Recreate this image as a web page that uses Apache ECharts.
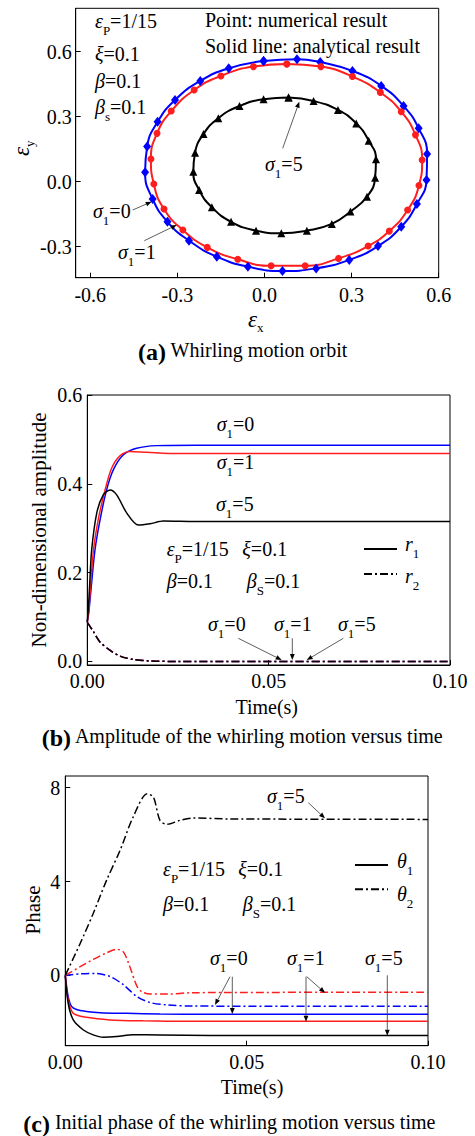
<!DOCTYPE html>
<html>
<head>
<meta charset="utf-8">
<script src="https://cdn.jsdelivr.net/npm/echarts@6/dist/echarts.min.js"></script>
<style>
  html, body { margin: 0; padding: 0; background: #fff; }
  #main { width: 475px; height: 1136px; }
</style>
</head>
<body>
<div id="main"></div>
<script>
// ---------- (a) whirling orbits, [εx, εy] ----------
const orbitSigma0 = [
  [-0.003, 0.557], [0.112, 0.565], [0.192, 0.552], [0.303, 0.511], [0.402, 0.442],
  [0.479, 0.349], [0.531, 0.246], [0.560, 0.128], [0.558, 0.008], [0.525, -0.103],
  [0.471, -0.208], [0.391, -0.297], [0.292, -0.361], [0.178, -0.400], [0.062, -0.412],
  [-0.057, -0.392], [-0.164, -0.346], [-0.260, -0.272], [-0.334, -0.185], [-0.385, -0.080],
  [-0.411, 0.043], [-0.404, 0.162], [-0.368, 0.276], [-0.308, 0.377], [-0.221, 0.465],
  [-0.123, 0.523]
];
const orbitSigma1 = [
  [0.077, 0.543], [0.194, 0.531], [0.303, 0.485], [0.399, 0.412], [0.471, 0.323],
  [0.520, 0.216], [0.543, 0.100], [0.532, -0.018], [0.493, -0.131], [0.430, -0.228],
  [0.357, -0.297], [0.255, -0.354], [0.140, -0.388], [0.023, -0.388], [-0.092, -0.358],
  [-0.197, -0.303], [-0.281, -0.223], [-0.346, -0.126], [-0.381, -0.011], [-0.391, 0.105],
  [-0.370, 0.223], [-0.321, 0.326], [-0.242, 0.423], [-0.150, 0.488], [-0.038, 0.531]
];
const orbitSigma5 = [
  [0.083, 0.388], [0.169, 0.372], [0.253, 0.331], [0.316, 0.269], [0.359, 0.189],
  [0.384, 0.103], [0.381, 0.018], [0.353, -0.069], [0.296, -0.138], [0.232, -0.195],
  [0.146, -0.226], [0.058, -0.238], [-0.029, -0.226], [-0.115, -0.185], [-0.181, -0.118],
  [-0.225, -0.038], [-0.245, 0.046], [-0.239, 0.134], [-0.210, 0.220], [-0.159, 0.293],
  [-0.086, 0.349], [-0.003, 0.380]
];
const orbitXTicks = [-0.6, -0.3, 0, 0.3, 0.6];
const orbitYTicks = [-0.3, 0, 0.3, 0.6];

// ---------- (b) amplitude versus time, [t, r] ----------
const r1Sigma0 = [[0, 0.089], [0.0004, 0.11], [0.001, 0.16], [0.0021, 0.25], [0.0035, 0.318],
  [0.0053, 0.386], [0.0072, 0.432], [0.0099, 0.465], [0.0136, 0.480], [0.0191, 0.486],
  [0.03, 0.487], [0.1, 0.487]];
const r1Sigma1 = [[0, 0.089], [0.0004, 0.115], [0.0009, 0.17], [0.0017, 0.251], [0.003, 0.319],
  [0.0049, 0.386], [0.0067, 0.435], [0.009, 0.463], [0.0118, 0.473], [0.0164, 0.471],
  [0.025, 0.468], [0.1, 0.468]];
const r1Sigma5 = [[0, 0.089], [0.0003, 0.12], [0.0007, 0.18], [0.0012, 0.251], [0.0026, 0.334],
  [0.0044, 0.375], [0.0063, 0.386], [0.0081, 0.375], [0.0109, 0.334], [0.0141, 0.307],
  [0.0173, 0.310], [0.021, 0.316], [0.03, 0.315], [0.1, 0.315]];
const r2Sigma0 = [[0, 0.088], [0.0017, 0.067], [0.0035, 0.044], [0.0063, 0.025], [0.009, 0.012],
  [0.0127, 0.0045], [0.0173, 0.001], [0.025, 0], [0.1, 0]];
const r2Sigma1 = [[0, 0.088], [0.0017, 0.067], [0.0035, 0.044], [0.0063, 0.025], [0.009, 0.012],
  [0.0127, 0.0045], [0.0173, 0.001], [0.025, 0], [0.1, 0]];
const r2Sigma5 = [[0, 0.088], [0.0017, 0.067], [0.0035, 0.044], [0.0063, 0.025], [0.009, 0.012],
  [0.0127, 0.0045], [0.0173, 0.001], [0.025, 0], [0.1, 0]];
const timeTicks = [0, 0.05, 0.1];
const ampTicks = [0, 0.2, 0.4, 0.6];

// ---------- (c) phase versus time, [t, θ] ----------
const th1Sigma0 = [[0, 0], [0.0008, -0.91], [0.0018, -1.34], [0.0041, -1.5], [0.0096, -1.59],
  [0.0169, -1.62], [0.0261, -1.65], [0.04, -1.66], [0.1, -1.66]];
const th1Sigma1 = [[0, 0], [0.0008, -1.05], [0.0022, -1.62], [0.0059, -1.79], [0.0123, -1.9],
  [0.0215, -1.94], [0.035, -1.96], [0.1, -1.96]];
const th1Sigma5 = [[0, 0], [0.0008, -1.19], [0.0022, -1.9], [0.005, -2.33], [0.0077, -2.54],
  [0.0105, -2.64], [0.0142, -2.61], [0.0187, -2.53], [0.0261, -2.54], [0.04, -2.56], [0.1, -2.56]];
const th2Sigma0 = [[0, 0], [0.004, 0.06], [0.0085, 0.08], [0.0123, -0.05], [0.016, -0.4],
  [0.0197, -0.9], [0.0234, -1.16], [0.028, -1.26], [0.035, -1.31], [0.1, -1.32]];
const th2Sigma1 = [[0, 0], [0.0041, 0.37], [0.0077, 0.68], [0.0114, 0.96], [0.0142, 1.11],
  [0.016, 1.0], [0.0178, 0.37], [0.0197, -0.45], [0.0211, -0.70], [0.0234, -0.80],
  [0.028, -0.80], [0.035, -0.74], [0.1, -0.72]];
const th2Sigma5 = [[0, 0], [0.0041, 1.36], [0.0077, 2.64], [0.0114, 4.06], [0.0151, 5.33],
  [0.0187, 6.75], [0.0226, 7.74], [0.0243, 7.6], [0.0261, 6.61], [0.028, 6.44],
  [0.0316, 6.61], [0.0353, 6.71], [0.045, 6.67], [0.1, 6.65]];
const phaseTicks = [0, 4, 8];

// ---------- styling ----------
const FF = "'Liberation Serif', 'Times New Roman', serif";
const BLUE = '#0000ff', RED = '#ff1e1e', BLACK = '#000000';
const DASHDOT = [8, 3, 2, 3];

const chart = echarts.init(document.getElementById('main'), null, { renderer: 'svg' });

function closed(pts) { return pts.concat([pts[0]]); }

function axis(kind, gridIndex, min, max, ticks, fmt, margin) {
  return {
    type: 'value', gridIndex, min, max,
    position: kind === 'x' ? 'bottom' : 'left',
    axisLine: { show: true, onZero: false, lineStyle: { color: '#000', width: 1 } },
    axisTick: { show: true, inside: true, length: 5, customValues: ticks, lineStyle: { color: '#000', width: 1 } },
    axisLabel: { customValues: ticks, formatter: fmt, color: '#000', fontFamily: FF, fontSize: 20, margin },
    splitLine: { show: false },
    minorTick: { show: false }
  };
}

const rich = {
  i:  { fontFamily: FF, fontStyle: 'italic', fontSize: 20, lineHeight: 22, verticalAlign: 'top', fill: '#000' },
  n:  { fontFamily: FF, fontSize: 20, lineHeight: 22, verticalAlign: 'top', fill: '#000' },
  sb: { fontFamily: FF, fontSize: 13, lineHeight: 13, padding: [13, 0, 0, 0], verticalAlign: 'top', fill: '#000' },
  I:  { fontFamily: FF, fontStyle: 'italic', fontSize: 23, lineHeight: 22, verticalAlign: 'top', fill: '#000' },
  b:  { fontFamily: FF, fontWeight: 'bold', fontSize: 24, lineHeight: 22, verticalAlign: 'top', fill: '#000' },
  c:  { fontFamily: FF, fontSize: 20, lineHeight: 22, verticalAlign: 'top', fill: '#000' }
};

// rich text whose main glyphs are centred on cy
function rt(x, cy, str, extra) {
  return Object.assign({
    type: 'text', x, y: cy - 11, z: 100,
    style: { text: str, rich, fill: '#000', align: 'left', verticalAlign: 'top',
             textAlign: 'left', textVerticalAlign: 'top', fontFamily: FF, fontSize: 20 }
  }, extra || {});
}
function plain(x, cy, str, size, align, extra) {
  return Object.assign({
    type: 'text', x, y: cy, z: 100,
    style: { text: str, fill: '#000', fontFamily: FF, fontSize: size,
             align: align || 'center', verticalAlign: 'middle',
             textAlign: align || 'center', textVerticalAlign: 'middle' }
  }, extra || {});
}
function sig(v) { return '{i|σ}{sb|1}{n|=' + v + '}'; }

function arrow(x1, y1, x2, y2) {
  const a = Math.atan2(y2 - y1, x2 - x1);
  const head = 6, w = 2.4;
  const bx = x2 - head * Math.cos(a), by = y2 - head * Math.sin(a);
  const p1 = [bx + w * Math.sin(a), by - w * Math.cos(a)];
  const p2 = [bx - w * Math.sin(a), by + w * Math.cos(a)];
  return [
    { type: 'line', z: 100, shape: { x1, y1, x2: bx, y2: by }, style: { stroke: '#333', lineWidth: 0.8 } },
    { type: 'polygon', z: 100, shape: { points: [[x2, y2], p1, p2] }, style: { fill: '#000' } }
  ];
}
function seg(x1, y1, x2, y2, dash) {
  return { type: 'line', z: 100, shape: { x1, y1, x2, y2 },
           style: { stroke: '#000', lineWidth: 2, lineDash: dash || null } };
}

const notes = [
  // (a)
  rt(95, 21.7, '{i|ε}{sb|P}{n|=1/15}'),
  rt(95, 55, '{i|ξ}{n|=0.1}'),
  rt(95, 81.7, '{i|β}{n|=0.1}'),
  rt(95, 108.3, '{i|β}{sb|s}{n|=0.1}'),
  rt(205, 20.7, '{n|Point: numerical result}'),
  rt(205, 46.7, '{n|Solid line: analytical result}'),
  rt(265, 165, sig(5)),
  rt(93, 212, sig(0)),
  rt(118, 253.3, sig(1)),
  ...arrow(282.7, 148.3, 299.3, 101.7),
  ...arrow(132.7, 210, 151.7, 201.7),
  ...arrow(144.3, 240.7, 176.7, 225),
  rt(248, 319.3, '{I|ε}{sb|x}'),
  rt(10, 156, '{I|ε}{sb|y}', { rotation: Math.PI / 2, x: 10, y: 156 }),
  rt(138, 350.7, '{b|(a)}{c| Whirling motion orbit}'),

  // (b)
  rt(216.7, 425, sig(0)),
  rt(216.7, 463.3, sig(1)),
  rt(216, 505, sig(5)),
  rt(166.7, 550, '{i|ε}{sb|P}{n|=1/15}'),
  rt(242.3, 550, '{i|ξ}{n|=0.1}'),
  rt(166.7, 582.3, '{i|β}{n|=0.1}'),
  rt(246.7, 582.3, '{i|β}{sb|S}{n|=0.1}'),
  seg(364, 549, 397, 549),
  seg(364, 574, 397, 574, DASHDOT),
  rt(405, 545, '{i|r}{sb|1}'),
  rt(405, 576.7, '{i|r}{sb|2}'),
  rt(208, 625, sig(0)),
  rt(274, 625, sig(1)),
  rt(338, 625, sig(5)),
  ...arrow(238.3, 638.3, 281.7, 660),
  ...arrow(292.3, 638.3, 292.3, 660),
  ...arrow(343.3, 638.3, 306.7, 660),
  plain(39, 530, 'Non-dimensional amplitude', 21, 'center', { rotation: Math.PI / 2, x: 39, y: 530 }),
  plain(266.7, 706.7, 'Time(s)', 20),
  rt(41.7, 736.7, '{b|(b)}{c| Amplitude of the whirling motion versus time}'),

  // (c)
  rt(267, 796.7, sig(5)),
  ...arrow(308.3, 802.7, 325, 818.3),
  rt(163, 870, '{i|ε}{sb|P}{n|=1/15}'),
  rt(238.3, 870, '{i|ξ}{n|=0.1}'),
  rt(163, 905, '{i|β}{n|=0.1}'),
  rt(242.7, 905, '{i|β}{sb|S}{n|=0.1}'),
  seg(355, 865, 388, 865),
  seg(355, 889.3, 388, 889.3, DASHDOT),
  rt(397, 861.7, '{i|θ}{sb|1}'),
  rt(397, 895, '{i|θ}{sb|2}'),
  rt(210, 959, sig(0)),
  rt(287, 959, sig(1)),
  rt(365, 959, sig(5)),
  ...arrow(232.3, 976.7, 232.3, 1014),
  ...arrow(230, 976.7, 215, 1005),
  ...arrow(306, 976.7, 306, 1021.7),
  ...arrow(306.7, 976.7, 325, 992.7),
  ...arrow(387.3, 975.3, 387.3, 1035.7),
  plain(33, 910, 'Phase', 21, 'center', { rotation: Math.PI / 2, x: 33, y: 910 }),
  plain(252, 1086.7, 'Time(s)', 20),
  rt(23.3, 1123, '{b|(c)}{c| Initial phase of the whirling motion versus time}')
];

function orbit(data, color, symbol, size) {
  return {
    type: 'line', xAxisIndex: 0, yAxisIndex: 0, data: closed(data),
    smooth: 0.5, symbol, symbolSize: size, showSymbol: true, showAllSymbol: true,
    lineStyle: { color, width: 2 }, itemStyle: { color }, z: 3
  };
}
function curve(idx, data, color, dashed, z) {
  return {
    type: 'line', xAxisIndex: idx, yAxisIndex: idx, data, smooth: 0.3,
    showSymbol: false, symbol: 'none',
    lineStyle: { color, width: 1.5, type: dashed ? DASHDOT : 'solid' }, z: z || 2
  };
}

chart.setOption({
  animation: false,
  backgroundColor: '#fff',
  grid: [
    { left: 75.7, top: 8.3, width: 363, height: 269.4, show: true, borderColor: '#000', borderWidth: 1, backgroundColor: 'transparent' },
    { left: 87.3, top: 395, width: 362.7, height: 270, show: true, borderColor: '#000', borderWidth: 1, backgroundColor: 'transparent' },
    { left: 65.3, top: 776, width: 362.7, height: 269.7, show: true, borderColor: '#000', borderWidth: 1, backgroundColor: 'transparent' }
  ],
  xAxis: [
    axis('x', 0, -0.65, 0.6, orbitXTicks, v => v.toFixed(1), 7),
    axis('x', 1, 0, 0.1, timeTicks, v => v.toFixed(2), 6),
    axis('x', 2, 0, 0.1, timeTicks, v => v.toFixed(2), 6)
  ],
  yAxis: [
    axis('y', 0, -0.443, 0.8, orbitYTicks, v => v.toFixed(1), 4),
    axis('y', 1, -0.008, 0.6, ampTicks, v => v.toFixed(1), 5),
    axis('y', 2, -3, 8.5, phaseTicks, v => String(v), 5)
  ],
  series: [
    orbit(orbitSigma0, BLUE, 'diamond', [8, 10]),
    orbit(orbitSigma1, RED, 'circle', 7),
    orbit(orbitSigma5, BLACK, 'triangle', 8),

    curve(1, r1Sigma0, BLUE),
    curve(1, r1Sigma1, RED),
    curve(1, r1Sigma5, BLACK),
    curve(1, r2Sigma0, BLUE, true),
    curve(1, r2Sigma1, RED, true),
    curve(1, r2Sigma5, BLACK, true, 3),

    curve(2, th1Sigma0, BLUE),
    curve(2, th1Sigma1, RED),
    curve(2, th1Sigma5, BLACK),
    curve(2, th2Sigma0, BLUE, true),
    curve(2, th2Sigma1, RED, true),
    curve(2, th2Sigma5, BLACK, true)
  ],
  graphic: { elements: notes }
});
</script>
</body>
</html>
